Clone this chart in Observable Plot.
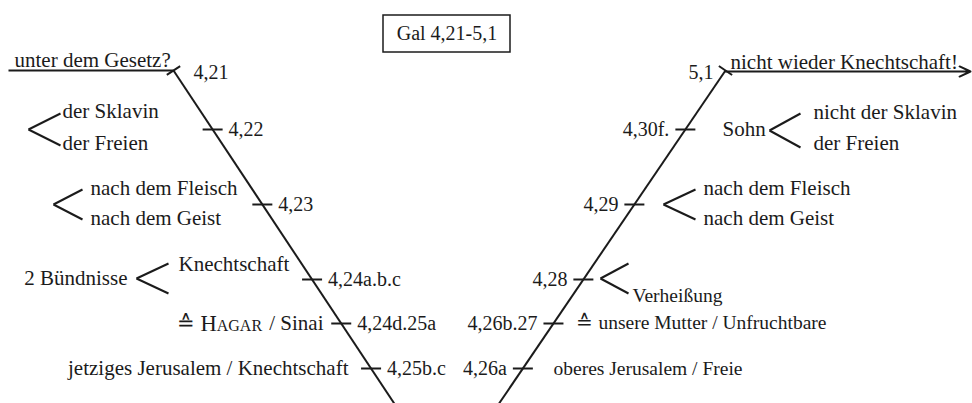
<!DOCTYPE html>
<html><head><meta charset="utf-8">
<script src="https://cdn.jsdelivr.net/npm/d3@7"></script>
<script src="https://cdn.jsdelivr.net/npm/@observablehq/plot@0.6"></script>
<style>body{margin:0;background:#fff}</style>
</head><body><div id="chart"></div>
<script>
// ---- data (diagram units = pixels of the 972x403 sheet) ----
const title = "Gal 4,21-5,1";
const leftVerses  = ["4,21", "4,22", "4,23", "4,24a.b.c", "4,24d.25a", "4,25b.c"];
const rightVerses = ["5,1", "4,30f.", "4,29", "4,28", "4,26b.27", "4,26a"];
const verseLevels = [70, 129, 204, 279, 323, 368];   // vertical level of each verse
const spineEnds   = [70, 403];                        // top and bottom of both spines
const leftSpineTop = 173, rightSpineTop = 725, leftLean = 0.663, rightLean = 0.68;

const leftHead  = ["unter dem Gesetz?"];
const rightHead = ["nicht wieder Knechtschaft!"];

const leftNotes = [
  {text: "der Sklavin", x: 62, y: 111, anchor: "start"},
  {text: "der Freien", x: 62, y: 143, anchor: "start"},
  {text: "nach dem Fleisch", x: 90, y: 188, anchor: "start"},
  {text: "nach dem Geist", x: 90, y: 218, anchor: "start"},
  {text: "Knechtschaft", x: 178, y: 264, anchor: "start"},
  {text: "2 Bündnisse", x: 127, y: 278, anchor: "end"},
  {text: "≙", x: 176, y: 323, anchor: "start"},
  {text: "/ Sinai", x: 323, y: 323, anchor: "end"},
  {text: "jetziges Jerusalem / Knechtschaft", x: 348, y: 368, anchor: "end"}
];
const smallCaps = [{text: "Hagar", x: 200, y: 323}];
const rightNotes = [
  {text: "Sohn", x: 722, y: 129, anchor: "start"},
  {text: "nicht der Sklavin", x: 813, y: 112, anchor: "start"},
  {text: "der Freien", x: 813, y: 143, anchor: "start"},
  {text: "nach dem Fleisch", x: 703, y: 188, anchor: "start"},
  {text: "nach dem Geist", x: 703, y: 218, anchor: "start"}
];
const lowerRightNotes = [
  {text: "Verheißung", x: 632, y: 295, anchor: "start"},
  {text: "≙", x: 575, y: 322, anchor: "start"},
  {text: "unsere Mutter / Unfruchtbare", x: 598, y: 322, anchor: "start"},
  {text: "oberes Jerusalem / Freie", x: 553, y: 368, anchor: "start"}
];
// brackets "<": vertex and the two arm ends
const brackets = [
  {vx: 28, vy: 129, ex: 60, ey1: 113, ey2: 145},
  {vx: 53, vy: 204, ex: 82, ey1: 189, ey2: 219},
  {vx: 136, vy: 278, ex: 168, ey1: 263, ey2: 293},
  {vx: 769, vy: 130, ex: 800, ey1: 113, ey2: 147},
  {vx: 663, vy: 204, ex: 695, ey1: 189, ey2: 219},
  {vx: 600, vy: 278, ex: 628, ey1: 263, ey2: 293}
];
const headLines = [
  {x1: 8, x2: 173, y: 70, arrow: false},
  {x1: 725, x2: 970, y: 71, arrow: true}
];
const titleBox = [{x1: 383, x2: 510, y1: 15, y2: 52}];

// ---- derived geometry ----
const leftX  = y => leftSpineTop + (y - spineEnds[0]) * leftLean;
const rightX = y => rightSpineTop - (y - spineEnds[0]) * rightLean;
const spines = [
  {x1: leftX(spineEnds[0]), y1: spineEnds[0], x2: leftX(spineEnds[1]), y2: spineEnds[1]},
  {x1: rightX(spineEnds[0]), y1: spineEnds[0], x2: rightX(spineEnds[1]), y2: spineEnds[1]}
];
const ticks = [];
verseLevels.forEach((y, i) => {
  if (i > 0) {
    ticks.push({x1: leftX(y) - 10, x2: leftX(y) + 10, y1: y, y2: y});
    ticks.push({x1: rightX(y) - 10, x2: rightX(y) + 10, y1: y, y2: y});
  }
});
// little strokes across the top ends of the spines
const nl = Math.hypot(1, leftLean), nr = Math.hypot(1, rightLean);
const spineTopY = spineEnds[0];
ticks.push({x1: leftX(spineTopY) - 8 / nl, y1: spineTopY + 8 * leftLean / nl, x2: leftX(spineTopY) + 8 / nl, y2: spineTopY - 8 * leftLean / nl});
ticks.push({x1: rightX(spineTopY) - 8 / nr, y1: spineTopY - 8 * rightLean / nr, x2: rightX(spineTopY) + 8 / nr, y2: spineTopY + 8 * rightLean / nr});

const verseLabels = [
  ...leftVerses.map((t, i) => ({text: t, x: leftX(verseLevels[i]) + 16 + (i === 0 ? 4 : 0), y: verseLevels[i] + (i === 0 ? 2 : 0), anchor: "start"})),
  ...rightVerses.map((t, i) => ({text: t, x: rightX(verseLevels[i]) - 16 + (i === 0 ? 4 : 0), y: verseLevels[i] + (i === 0 ? 2 : 0), anchor: "end"}))
];
const headTexts = [
  {text: leftHead[0], x: 14, y: 60, anchor: "start"},
  {text: rightHead[0], x: 730, y: 62, anchor: "start"}
];
const arms = brackets.flatMap(b => [
  {x1: b.vx, y1: b.vy, x2: b.ex, y2: b.ey1},
  {x1: b.vx, y1: b.vy, x2: b.ex, y2: b.ey2}
]);

const ink = "#1b1b1b";
const font = "Liberation Serif, Times New Roman, serif";
const txt = (data, anchor, size) => Plot.text(data.filter(d => d.anchor === anchor), {
  x: "x", y: "y", text: "text", textAnchor: anchor,
  fontFamily: font, fontSize: size, fill: ink
});
const big = [...headTexts, ...leftNotes, ...rightNotes];

const chart = Plot.plot({
  width: 972, height: 403, margin: 0,
  x: {domain: [0, 972], range: [0, 972], axis: null},
  y: {domain: [0, 403], range: [0, 403], axis: null},
  style: {background: "#fff", fontFamily: font},
  marks: [
    Plot.link(spines, {x1: "x1", y1: "y1", x2: "x2", y2: "y2", stroke: ink, strokeWidth: 2}),
    Plot.link(ticks, {x1: "x1", y1: "y1", x2: "x2", y2: "y2", stroke: ink, strokeWidth: 2}),
    Plot.link(arms, {x1: "x1", y1: "y1", x2: "x2", y2: "y2", stroke: ink, strokeWidth: 2}),
    Plot.link(headLines.filter(d => !d.arrow), {x1: "x1", x2: "x2", y1: "y", y2: "y", stroke: ink, strokeWidth: 2}),
    Plot.arrow(headLines.filter(d => d.arrow), {x1: "x1", x2: "x2", y1: "y", y2: "y", stroke: ink, strokeWidth: 2, headLength: 9, headAngle: 50}),
    Plot.rect(titleBox, {x1: "x1", x2: "x2", y1: "y1", y2: "y2", fill: "#fff", stroke: ink, strokeWidth: 1.5}),
    Plot.text([title], {x: () => (titleBox[0].x1 + titleBox[0].x2) / 2, y: () => (titleBox[0].y1 + titleBox[0].y2) / 2, text: d => d, fontFamily: font, fontSize: 20, fill: ink}),
    txt(big, "start", 21),
    txt(big, "end", 21),
    txt(verseLabels, "start", 20),
    txt(verseLabels, "end", 20),
    txt(lowerRightNotes, "start", 19.5),
    Plot.text(smallCaps, {x: "x", y: "y", text: "text", textAnchor: "start", fontVariant: "small-caps", fontFamily: font, fontSize: 22.5, fill: ink})
  ]
});
document.getElementById("chart").appendChild(chart);
</script>
</body></html>
